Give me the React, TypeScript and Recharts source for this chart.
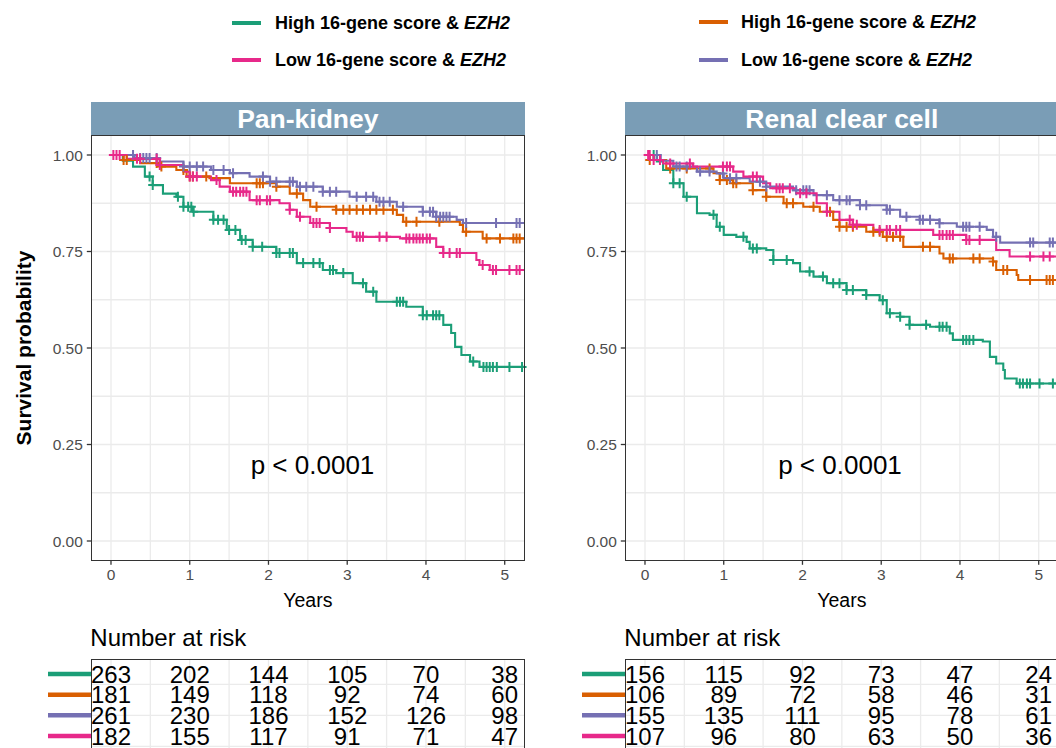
import React from 'react';
import { ComposedChart, Line, Scatter, XAxis, YAxis, CartesianGrid } from 'recharts';

type Step = [number, number];

const FONT = '"Liberation Sans", Arial, Helvetica, sans-serif';
const TEAL = '#1B9E77';
const ORANGE = '#D95F02';
const VIOLET = '#7570B3';
const MAGENTA = '#E7298A';
const STRIP = '#7A9DB6';

// axis / grid values
const xTicks = [0, 1, 2, 3, 4, 5];
const yTicks = [0, 0.25, 0.5, 0.75, 1];
const xGridValues = [0, 0.5, 1, 1.5, 2, 2.5, 3, 3.5, 4, 4.5, 5];
const yGridValues = [0, 0.125, 0.25, 0.375, 0.5, 0.625, 0.75, 0.875, 1];
const tableGridValues = [-0.5, 0, 0.5, 1, 1.5, 2, 2.5, 3, 3.5];
const X_DOMAIN: [number, number] = [-0.25, 5.25];
const Y_DOMAIN: [number, number] = [-0.05, 1.05];
const ROW_DOMAIN: [number, number] = [-0.68, 3.68];

// ---- Pan-kidney ----
const panTealSteps: Step[] = [
  [0, 1], [0.15, 0.985], [0.28, 0.97], [0.43, 0.944], [0.53, 0.922], [0.66, 0.9], [0.83, 0.892],
  [0.92, 0.866], [1.04, 0.853], [1.3, 0.832], [1.47, 0.806], [1.64, 0.78], [1.8, 0.762],
  [2.1, 0.746], [2.36, 0.72], [2.69, 0.702], [2.86, 0.694], [3.07, 0.668], [3.24, 0.646],
  [3.37, 0.62], [3.75, 0.607], [3.96, 0.585], [4.22, 0.56], [4.32, 0.539], [4.37, 0.503],
  [4.45, 0.482], [4.56, 0.465], [4.68, 0.451], [5.25, 0.451],
];
const panTealCensor = [
  0.49, 0.53, 0.85, 0.92, 0.98, 1.02, 1.05, 1.3, 1.36, 1.43, 1.5, 1.58, 1.66, 1.71, 1.8, 1.92,
  2.1, 2.14, 2.27, 2.31, 2.44, 2.57, 2.65, 2.78, 2.82, 2.95, 3.2, 3.33, 3.63, 3.67, 3.71, 3.96,
  4.01, 4.09, 4.13, 4.17, 4.6, 4.73, 4.77, 4.81, 4.85, 4.9, 5.06, 5.22,
];
const panOrangeSteps: Step[] = [
  [0, 1], [0.16, 0.987], [0.37, 0.979], [0.62, 0.97], [0.83, 0.961], [0.96, 0.944], [1.25, 0.94],
  [1.51, 0.927], [2.1, 0.918], [2.27, 0.9], [2.44, 0.883], [2.53, 0.866], [2.86, 0.858],
  [3.63, 0.845], [3.71, 0.827], [4.43, 0.819], [4.47, 0.801], [4.72, 0.784], [5.25, 0.784],
];
const panOrangeCensor = [
  0.16, 0.2, 0.58, 0.64, 0.92, 1.0, 1.04, 1.21, 1.85, 1.89, 1.93, 2.1, 2.36, 2.61, 2.86, 2.95,
  3.03, 3.12, 3.2, 3.29, 3.37, 3.46, 3.58, 3.75, 3.88, 4.17, 4.51, 4.77, 4.94, 5.11, 5.15, 5.19,
];
const panVioletSteps: Step[] = [
  [0, 1], [0.3, 0.992], [0.62, 0.983], [0.92, 0.97], [1.27, 0.961], [1.51, 0.953], [1.76, 0.944],
  [2.02, 0.931], [2.36, 0.918], [2.69, 0.905], [3.03, 0.892], [3.37, 0.879], [3.63, 0.866],
  [3.96, 0.853], [4.13, 0.84], [4.39, 0.832], [4.47, 0.824], [5.25, 0.824],
];
const panVioletCensor = [
  0.28, 0.37, 0.41, 0.45, 0.49, 0.58, 0.92, 1.0, 1.09, 1.17, 1.3, 1.43, 1.55, 1.93, 2.02, 2.1,
  2.27, 2.31, 2.4, 2.48, 2.57, 2.69, 2.78, 2.86, 3.12, 3.24, 3.33, 3.41, 3.46, 3.54, 3.71, 3.96,
  4.05, 4.09, 4.13, 4.18, 4.22, 4.26, 4.3, 4.51, 4.89, 5.15, 5.19,
];
const panMagentaSteps: Step[] = [
  [0, 1], [0.2, 0.99], [0.62, 0.974], [0.92, 0.957], [1.0, 0.944], [1.27, 0.935], [1.38, 0.918],
  [1.51, 0.905], [1.76, 0.883], [2.14, 0.875], [2.27, 0.858], [2.36, 0.84], [2.53, 0.824],
  [2.78, 0.811], [2.99, 0.801], [3.07, 0.788], [3.67, 0.784], [4.13, 0.762], [4.22, 0.746],
  [4.64, 0.728], [4.68, 0.715], [4.81, 0.702], [5.25, 0.702],
];
const panMagentaCensor = [
  0.03, 0.07, 0.11, 0.33, 0.37, 0.58, 0.62, 1.0, 1.04, 1.09, 1.34, 1.55, 1.59, 1.64, 1.68, 1.72,
  1.85, 1.89, 1.98, 2.02, 2.27, 2.4, 2.57, 2.61, 2.65, 2.78, 3.12, 3.16, 3.2, 3.41, 3.5, 3.75,
  3.79, 3.84, 3.88, 3.92, 3.96, 4.01, 4.05, 4.22, 4.3, 4.39, 4.43, 4.72, 4.85, 4.89, 5.06, 5.15, 5.19,
];

// ---- Renal clear cell ----
const rccTealSteps: Step[] = [
  [0, 1], [0.15, 0.983], [0.23, 0.961], [0.36, 0.927], [0.49, 0.892], [0.66, 0.849], [0.82, 0.845],
  [0.91, 0.814], [1.0, 0.793], [1.16, 0.788], [1.29, 0.775], [1.33, 0.758], [1.54, 0.754],
  [1.63, 0.728], [1.88, 0.72], [1.97, 0.698], [2.14, 0.685], [2.31, 0.668], [2.56, 0.65],
  [2.81, 0.637], [2.98, 0.624], [3.07, 0.59], [3.24, 0.581], [3.36, 0.56], [3.62, 0.555],
  [3.87, 0.538], [3.91, 0.521], [4.29, 0.517], [4.38, 0.477], [4.46, 0.46], [4.55, 0.443],
  [4.57, 0.421], [4.72, 0.408], [5.25, 0.408],
];
const rccTealCensor = [
  0.11, 0.36, 0.44, 0.53, 0.87, 0.95, 1.25, 1.37, 1.42, 1.63, 1.8, 2.09, 2.26, 2.39, 2.47, 2.56,
  2.64, 2.81, 3.02, 3.11, 3.24, 3.36, 3.57, 3.74, 3.78, 3.83, 4.04, 4.08, 4.12, 4.17, 4.76, 4.8,
  4.85, 4.89, 5.01, 5.18,
];
const rccOrangeSteps: Step[] = [
  [0, 1], [0.06, 0.987], [0.27, 0.965], [0.87, 0.953], [0.95, 0.935], [1.12, 0.927], [1.37, 0.909],
  [1.54, 0.892], [1.76, 0.875], [2.01, 0.866], [2.22, 0.853], [2.39, 0.832], [2.47, 0.814],
  [2.81, 0.801], [3.02, 0.788], [3.28, 0.762], [3.74, 0.745], [3.79, 0.732], [4.42, 0.724],
  [4.46, 0.702], [4.72, 0.689], [4.74, 0.676], [5.25, 0.676],
];
const rccOrangeCensor = [
  0.06, 0.32, 0.53, 0.82, 0.95, 1.04, 1.12, 1.16, 1.37, 1.54, 1.8, 1.88, 2.14, 2.35, 2.47, 2.56,
  2.64, 2.9, 2.98, 3.07, 3.15, 3.24, 3.53, 3.62, 3.87, 3.91, 4.17, 4.25, 4.42, 4.55, 4.6, 4.89,
  5.1, 5.14, 5.18,
];
const rccVioletSteps: Step[] = [
  [0, 1], [0.2, 0.985], [0.36, 0.97], [0.66, 0.957], [0.91, 0.952], [1.0, 0.94], [1.33, 0.931],
  [1.54, 0.918], [1.88, 0.909], [2.14, 0.896], [2.39, 0.883], [2.73, 0.87], [3.07, 0.858],
  [3.24, 0.84], [3.49, 0.832], [3.74, 0.823], [3.96, 0.814], [4.34, 0.806], [4.42, 0.788],
  [4.51, 0.773], [5.25, 0.773],
];
const rccVioletCensor = [
  0.15, 0.4, 0.44, 0.53, 0.7, 0.82, 0.99, 1.08, 1.16, 1.46, 1.54, 1.92, 2.01, 2.05, 2.09, 2.31,
  2.47, 2.56, 2.6, 2.73, 2.81, 3.07, 3.11, 3.32, 3.49, 3.53, 3.62, 3.74, 4.04, 4.08, 4.12, 4.25,
  4.46, 4.89, 4.93, 5.14, 5.18,
];
const rccMagentaSteps: Step[] = [
  [0, 1], [0.11, 0.987], [0.23, 0.978], [0.61, 0.97], [1.12, 0.957], [1.25, 0.944], [1.5, 0.927],
  [1.59, 0.914], [1.92, 0.901], [2.18, 0.875], [2.31, 0.853], [2.47, 0.832], [2.64, 0.819],
  [2.9, 0.806], [3.66, 0.793], [4.08, 0.78], [4.46, 0.754], [4.63, 0.737], [5.25, 0.737],
];
const rccMagentaCensor = [
  0.04, 0.06, 0.11, 0.19, 0.32, 0.57, 0.99, 1.04, 1.08, 1.37, 1.42, 1.67, 1.71, 1.75, 1.84, 1.97,
  2.05, 2.31, 2.6, 2.64, 2.69, 2.98, 3.07, 3.11, 3.19, 3.24, 3.74, 3.78, 3.83, 3.87, 3.91, 4.08,
  4.12, 4.25, 4.89, 5.06, 5.14,
];

// ---- Number at risk ----
const riskTimes = [0, 1, 2, 3, 4, 5];
const panTealRisk = [263, 202, 144, 105, 70, 38];
const panOrangeRisk = [181, 149, 118, 92, 74, 60];
const panVioletRisk = [261, 230, 186, 152, 126, 98];
const panMagentaRisk = [182, 155, 117, 91, 71, 47];
const rccTealRisk = [156, 115, 92, 73, 47, 24];
const rccOrangeRisk = [106, 89, 72, 58, 46, 31];
const rccVioletRisk = [155, 135, 111, 95, 78, 61];
const rccMagentaRisk = [107, 96, 80, 63, 50, 36];

interface Curve {
  color: string;
  steps: Step[];
  censor: number[];
  risk: number[];
}

const panCurves: Curve[] = [
  { color: TEAL, steps: panTealSteps, censor: panTealCensor, risk: panTealRisk },
  { color: ORANGE, steps: panOrangeSteps, censor: panOrangeCensor, risk: panOrangeRisk },
  { color: VIOLET, steps: panVioletSteps, censor: panVioletCensor, risk: panVioletRisk },
  { color: MAGENTA, steps: panMagentaSteps, censor: panMagentaCensor, risk: panMagentaRisk },
];
const rccCurves: Curve[] = [
  { color: TEAL, steps: rccTealSteps, censor: rccTealCensor, risk: rccTealRisk },
  { color: ORANGE, steps: rccOrangeSteps, censor: rccOrangeCensor, risk: rccOrangeRisk },
  { color: VIOLET, steps: rccVioletSteps, censor: rccVioletCensor, risk: rccVioletRisk },
  { color: MAGENTA, steps: rccMagentaSteps, censor: rccMagentaCensor, risk: rccMagentaRisk },
];

// survival value of a step curve at time t (censor marks sit on the curve)
const survAt = (steps: Step[], t: number) => {
  let s = 1;
  for (const [st, sv] of steps) if (st <= t) s = sv;
  return s;
};

// layout
const CHART_W = 545;
const PLOT_LEFT = 91.3;
const PLOT_W = 433.1;
const PLOT_TOP = 135.7;
const PLOT_H = 424.6;
const TABLE_TOP = 660;

const Txt: React.FC<{
  x: number; y: number; size: number; bold?: boolean; center?: boolean; rotate?: boolean;
  color?: string; children: React.ReactNode;
}> = ({ x, y, size, bold, center, rotate, color = '#000', children }) => (
  <div
    style={{
      position: 'absolute', left: x, top: y, fontSize: size, fontWeight: bold ? 700 : 400,
      lineHeight: 1, whiteSpace: 'nowrap', color,
      transform: rotate ? 'translate(-50%,-50%) rotate(-90deg)' : center ? 'translate(-50%,-50%)' : 'translateY(-50%)',
    }}
  >
    {children}
  </div>
);

const Border: React.FC<{ x: number; y: number; w: number; h: number }> = ({ x, y, w, h }) => (
  <div
    style={{
      position: 'absolute', left: x - 0.75, top: y - 0.75, width: w + 1.5, height: h + 1.5,
      border: '1.5px solid #333', boxSizing: 'border-box', pointerEvents: 'none',
    }}
  />
);

const plus = (color: string) => (p: any) => (
  <path
    d={`M${p.cx - 4.5},${p.cy}H${p.cx + 4.5}M${p.cx},${p.cy - 5}V${p.cy + 5}`}
    stroke={color}
    strokeWidth={2}
    fill="none"
  />
);

const tickStyle = { fill: '#4D4D4D', fontSize: 15.5, fontFamily: FONT };

const KMPanel: React.FC<{ offsetX: number; curves: Curve[] }> = ({ offsetX, curves }) => (
  <div style={{ position: 'absolute', left: offsetX, top: 100 }}>
    <ComposedChart
      width={CHART_W}
      height={520}
      margin={{ top: PLOT_TOP - 100, right: CHART_W - PLOT_LEFT - PLOT_W, bottom: 29.7, left: PLOT_LEFT - 60 }}
    >
      <CartesianGrid stroke="#EBEBEB" strokeWidth={1.3} verticalValues={xGridValues} horizontalValues={yGridValues} />
      <XAxis
        type="number" dataKey="t" domain={X_DOMAIN} ticks={xTicks} height={30} axisLine={false}
        tickLine={{ stroke: '#333', strokeWidth: 1.3 }} tickSize={4.5} tickMargin={4} tick={tickStyle}
      />
      <YAxis
        type="number" dataKey="s" domain={Y_DOMAIN} ticks={yTicks} width={60} axisLine={false}
        tickLine={{ stroke: '#333', strokeWidth: 1.3 }} tickSize={4.5} tickMargin={4} tick={tickStyle}
        tickFormatter={(v: number) => v.toFixed(2)}
      />
      {curves.map((c, i) => (
        <Line
          key={`l${i}`} data={c.steps.map(([t, s]) => ({ t, s }))} dataKey="s" type="stepAfter"
          stroke={c.color} strokeWidth={2.1} dot={false} activeDot={false} isAnimationActive={false}
        />
      ))}
      {curves.map((c, i) => (
        <Scatter
          key={`c${i}`} data={c.censor.map((t) => ({ t, s: survAt(c.steps, t) }))} dataKey="s"
          shape={plus(c.color)} isAnimationActive={false}
        />
      ))}
    </ComposedChart>
  </div>
);

const riskNumber = (p: any) => (
  <text x={p.cx} y={p.cy} dy="0.36em" textAnchor="middle" fontSize={24} fontFamily={FONT} fill="#000">
    {p.payload.n}
  </text>
);

const rowKey = (color: string) => (p: any) => (
  <line x1={p.cx - 43.3} x2={p.cx} y1={p.cy} y2={p.cy} stroke={color} strokeWidth={4.5} />
);

const RiskTable: React.FC<{ offsetX: number; curves: Curve[] }> = ({ offsetX, curves }) => (
  <div style={{ position: 'absolute', left: offsetX, top: TABLE_TOP - 20 }}>
    <ComposedChart
      width={CHART_W}
      height={110}
      margin={{ top: 20, right: CHART_W - PLOT_LEFT - PLOT_W, bottom: 0, left: PLOT_LEFT }}
    >
      <CartesianGrid stroke="#EBEBEB" strokeWidth={1.3} verticalValues={xGridValues} horizontalValues={tableGridValues} />
      <XAxis type="number" dataKey="t" domain={X_DOMAIN} hide height={0} />
      <YAxis type="number" dataKey="row" domain={ROW_DOMAIN} reversed hide width={0} />
      {curves.map((c, i) => (
        <Scatter
          key={`k${i}`} data={[{ t: X_DOMAIN[0], row: i }]} dataKey="row"
          shape={rowKey(c.color)} isAnimationActive={false}
        />
      ))}
      {curves.map((c, i) => (
        <Scatter
          key={`n${i}`} data={riskTimes.map((t, j) => ({ t, row: i, n: c.risk[j] }))} dataKey="row"
          shape={riskNumber} isAnimationActive={false}
        />
      ))}
    </ComposedChart>
  </div>
);

const LegendKey: React.FC<{ x: number; y: number; color: string; textX: number; label: string }> = ({ x, y, color, textX, label }) => (
  <>
    <div style={{ position: 'absolute', left: x, top: y - 2.25, width: 28.5, height: 4.5, background: color }} />
    <Txt x={textX} y={y} size={18} bold>
      {label} <i>EZH2</i>
    </Txt>
  </>
);

const Panel: React.FC<{ offsetX: number; title: string; curves: Curve[]; pX: number }> = ({ offsetX, title, curves, pX }) => {
  const left = offsetX + PLOT_LEFT;
  return (
    <>
      <div
        style={{
          position: 'absolute', left: left - 0.75, top: 101.7, width: PLOT_W + 1.5, height: PLOT_TOP - 101.7,
          background: STRIP,
        }}
      />
      <Txt x={left + PLOT_W / 2} y={119} size={26.5} bold center color="#fff">{title}</Txt>
      <KMPanel offsetX={offsetX} curves={curves} />
      <Border x={left} y={PLOT_TOP} w={PLOT_W} h={PLOT_H} />
      <Txt x={pX} y={465} size={26} center>p &lt; 0.0001</Txt>
      <Txt x={left + PLOT_W / 2} y={600.5} size={19.5} center>Years</Txt>
      <Txt x={left - 1} y={638.3} size={24}>Number at risk</Txt>
      <RiskTable offsetX={offsetX} curves={curves} />
      <Border x={left} y={TABLE_TOP} w={PLOT_W} h={100} />
    </>
  );
};

const App: React.FC = () => (
  <div
    style={{
      position: 'absolute', left: 0, top: 0, width: 1056, height: 748, overflow: 'hidden',
      background: '#fff', fontFamily: FONT,
    }}
  >
    <LegendKey x={232} y={23} color={TEAL} textX={275} label="High 16-gene score &" />
    <LegendKey x={232} y={60} color={MAGENTA} textX={275} label="Low 16-gene score &" />
    <LegendKey x={699} y={22} color={ORANGE} textX={741} label="High 16-gene score &" />
    <LegendKey x={699} y={60} color={VIOLET} textX={741} label="Low 16-gene score &" />

    <Txt x={23} y={PLOT_TOP + PLOT_H / 2} size={21} bold rotate>Survival probability</Txt>

    <Panel offsetX={0} title="Pan-kidney" curves={panCurves} pX={312.5} />
    <Panel offsetX={534} title="Renal clear cell" curves={rccCurves} pX={840} />
  </div>
);

export default App;
